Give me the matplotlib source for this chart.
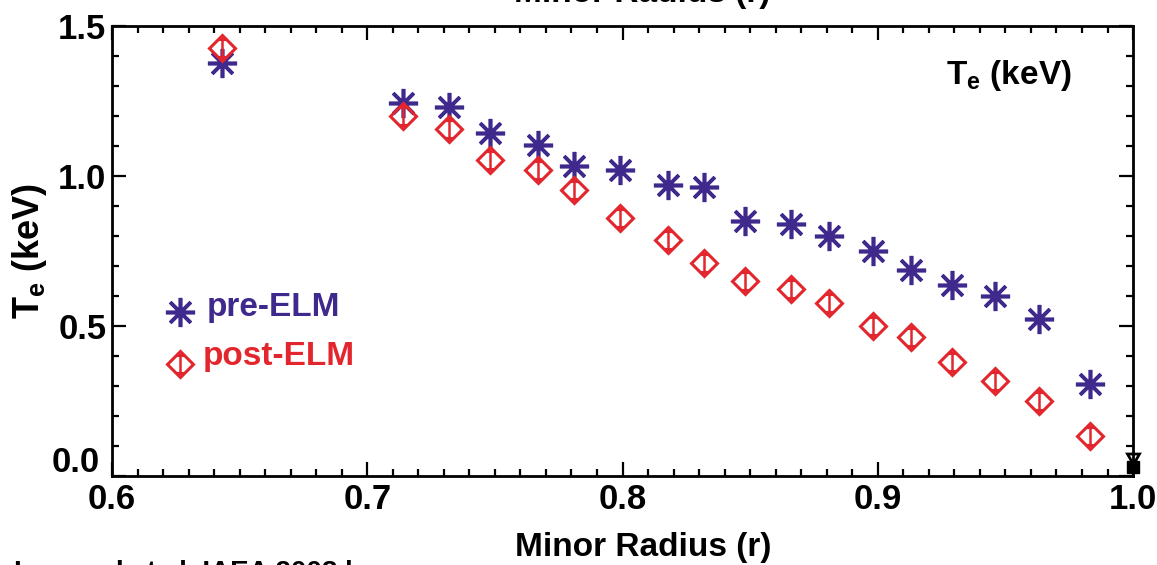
'''Te profile before and after an ELM, minor radius on x'''

import matplotlib
matplotlib.use('Agg')
import matplotlib.pyplot as plt
from matplotlib.ticker import MultipleLocator, FuncFormatter

plt.rcParams['font.family'] = ['Liberation Sans', 'DejaVu Sans']
plt.rcParams['font.weight'] = 'bold'
plt.rcParams['mathtext.default'] = 'regular'

# minor radius of each channel
radius = [0.643, 0.714, 0.732, 0.748, 0.767, 0.781, 0.799, 0.818, 0.832,
          0.848, 0.866, 0.881, 0.898, 0.913, 0.929, 0.946, 0.963, 0.983]
# Te (keV) before the ELM
te_pre = [1.377, 1.243, 1.230, 1.143, 1.103, 1.033, 1.020, 0.970, 0.963,
          0.850, 0.840, 0.800, 0.750, 0.687, 0.637, 0.600, 0.523, 0.307]
# Te (keV) after the ELM
te_post = [1.427, 1.200, 1.157, 1.053, 1.020, 0.953, 0.860, 0.787, 0.710,
           0.650, 0.623, 0.577, 0.500, 0.463, 0.380, 0.317, 0.250, 0.133]
te_err = 0.03

pre_col = '#40298c'
post_col = '#e3262d'
star = (8, 2, 0)

fig = plt.figure(figsize=(11.57, 5.65), dpi=100)
ax = fig.add_axes([0.0968, 0.1575, 0.8825, 0.7965])

ax.plot(radius, te_pre, linestyle='none', marker=star, markersize=21,
        markeredgewidth=2.6, color=pre_col)
ax.errorbar(radius, te_post, yerr=te_err, fmt='D', markersize=13,
            markerfacecolor='none', markeredgecolor=post_col,
            markeredgewidth=2.2, ecolor=post_col, elinewidth=1.8,
            capsize=3, capthick=1.4)

# stray black points at the edge
ax.plot([1.0], [0.065], marker=(3, 0, 180), markersize=10, color='black',
        markerfacecolor='none', markeredgewidth=2, clip_on=False)
ax.plot([1.0], [0.03], marker='s', markersize=9, color='black', clip_on=False)

ax.set_xlim(0.6, 1.0)
ax.set_ylim(0.0, 1.5)
ax.xaxis.set_major_locator(MultipleLocator(0.1))
ax.xaxis.set_minor_locator(MultipleLocator(0.01))
ax.yaxis.set_major_locator(MultipleLocator(0.5))
ax.yaxis.set_minor_locator(MultipleLocator(0.1))
# 0.0 is drawn by hand a bit higher, clear of the 0.6 label
ax.yaxis.set_major_formatter(FuncFormatter(lambda v, p: '' if v == 0 else '%.1f' % v))
ax.tick_params(which='both', direction='in', top=True, right=True,
               labelsize=25, width=1.6)
ax.tick_params(axis='x', pad=5)
ax.tick_params(axis='y', pad=4)
ax.tick_params(which='major', length=10)
ax.tick_params(which='minor', length=5)
for s in ax.spines.values():
    s.set_linewidth(2)
ax.text(-0.012, 0.03, '0.0', transform=ax.transAxes, ha='right', va='center',
        fontsize=25, fontweight='bold')

ax.set_xlabel('Minor Radius (r)', fontsize=24, fontweight='bold')
ax.xaxis.set_label_coords(0.52, -0.125)
ax.set_ylabel('T$_e$ (keV)', fontsize=26, fontweight='bold')
ax.yaxis.set_label_coords(-0.062, 0.5)

ax.text(0.94, 0.89, 'T$_e$ (keV)', transform=ax.transAxes, ha='right',
        va='center', fontsize=24, fontweight='bold')

# legend drawn by hand
ax.plot([0.067], [0.365], transform=ax.transAxes, marker=star, markersize=21,
        markeredgewidth=2.6, color=pre_col, clip_on=False)
ax.text(0.093, 0.375, 'pre-ELM', transform=ax.transAxes, va='center',
        fontsize=24, fontweight='bold', color=pre_col)
ax.errorbar([0.067], [0.248], yerr=0.02, transform=ax.transAxes, fmt='D',
            markersize=13, markerfacecolor='none', markeredgecolor=post_col,
            markeredgewidth=2.2, ecolor=post_col, elinewidth=1.8, capsize=3)
ax.text(0.089, 0.265, 'post-ELM', transform=ax.transAxes, va='center',
        fontsize=24, fontweight='bold', color=post_col)

# cut-off text from the page around the figure
fig.text(0.555, 0.996, 'Minor Radius (r)', ha='center', va='baseline',
         fontsize=24, fontweight='bold')
fig.text(0.012, -0.014, 'Leonard et al. IAEA 2008 l', ha='left', va='center',
         fontsize=20, fontweight='bold')

fig.savefig('out.png', dpi=100)
